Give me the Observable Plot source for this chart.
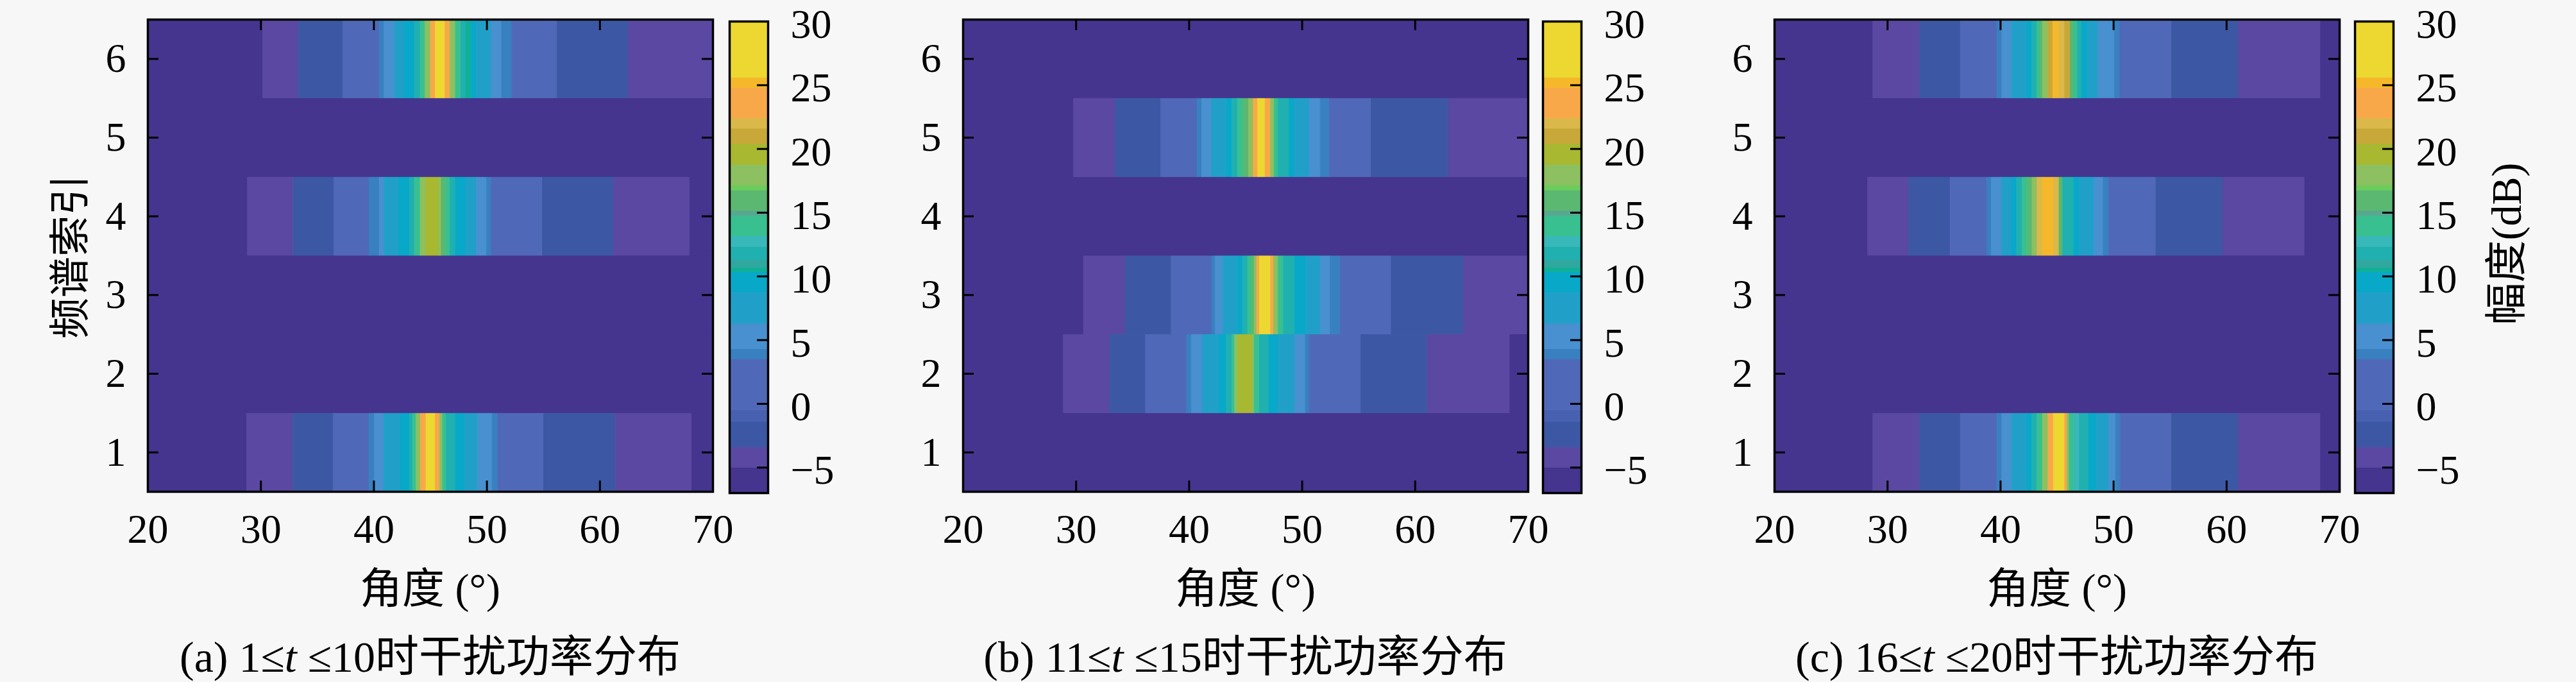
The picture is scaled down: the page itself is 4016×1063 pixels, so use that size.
<!DOCTYPE html>
<html>
<head>
<meta charset="utf-8">
<script src="https://cdn.jsdelivr.net/npm/d3@7"></script>
<script src="https://cdn.jsdelivr.net/npm/@observablehq/plot@0.6"></script>
<style>
  html, body { margin: 0; padding: 0; background: #f7f7f7; }
  #root { position: relative; width: 4016px; height: 1063px; background: #f7f7f7; overflow: hidden; }
  .abs { position: absolute; }
  .abs svg { display: block; background: transparent; overflow: visible; }
  .abs svg, .abs svg text { font-family: "Liberation Serif", serif !important; }
  .txt { position: absolute; white-space: nowrap; color: #000; line-height: 1.15;
         font-family: "Liberation Serif", "Noto Sans CJK SC", serif; }
</style>
</head>
<body>
<div id="root"></div>
<script>
// ---------------- data ----------------
const angleTicks = [20, 30, 40, 50, 60, 70];
const indexTicks = [1, 2, 3, 4, 5, 6];
const dbTicks = [-5, 0, 5, 10, 15, 20, 25, 30];
const dbDomain = [-7, 30];

// colour levels of the colour bar (dB boundaries) and their colours
const levelEdges = [-7, -5.0, -3.4, -1.4, -0.5, 3.5, 4.3, 6.3, 8.75, 10.35, 10.7, 11.3, 12.3,
                    13.15, 14.75, 15.15, 16.75, 17.15, 18.75, 20.4, 21.6, 22.4, 24.8, 25.6, 30];
const levelColors = ["#45358f", "#5a48a2", "#3c58a4", "#4860b0", "#5068b8", "#3880c0", "#4890d0",
                     "#20a0c8", "#08a8c8", "#10b098", "#30a8a0", "#20b0b0", "#38b8b8", "#38c090",
                     "#58a890", "#5ab870", "#6ccc5c", "#8cc060", "#a8b830", "#c8a838", "#dab84a",
                     "#f8a848", "#f5b82a", "#ecd830"];

// rows without interference
const quietEdges = [20, 70];
const quietValues = [-6];

// (a) 1<=t<=10 : rows 1, 4, 6  (angle boundaries, dB value of each segment)
const a6Edges = [20, 30.2, 33.35, 37.3, 40.5, 40.93, 41.84, 42.72, 43.62, 44.12, 44.55, 45.03, 45.46, 46.32, 46.75, 47.24, 47.72, 48.15, 48.62, 49.07, 50.41, 51.32, 52.24, 56.23, 62.54, 70];
const a6Values = [-6, -4.2, -2.4, 1.5, 3.9, 5.3, 7.5, 9.5, 11.8, 14, 18, 23.5, 28, 23.5, 18, 14, 11.8, 10.5, 9.5, 7.5, 5.3, 3.9, 1.5, -2.4, -4.2];
const a4Edges = [20, 28.84, 32.87, 36.5, 39.6, 40.5, 40.93, 42.22, 43.19, 43.62, 44.12, 44.59, 45.78, 45.99, 46.4, 46.75, 47.24, 48.15, 49.08, 49.98, 50.41, 54.94, 61.23, 67.97, 70];
const a4Values = [-6, -4.2, -2.4, 1.5, 3.9, 5.3, 7.5, 9.5, 11.8, 14, 18, 19.5, 18, 16, 14, 11.8, 9.5, 7.5, 5.3, 3.9, 1.5, -2.4, -4.2, -6];
const a1Edges = [20, 28.76, 32.83, 36.44, 39.59, 40.08, 40.9, 42.36, 43.17, 43.45, 43.76, 44.15, 44.63, 45.45, 45.84, 46.1, 46.42, 47.24, 48.05, 49.19, 50.49, 50.98, 55.04, 61.38, 68.15, 70];
const a1Values = [-6, -4.2, -2.4, 1.5, 3.9, 5.3, 7.5, 9.5, 11.8, 14, 18, 23.5, 28, 23.5, 18, 14, 11.8, 9.5, 7.5, 5.3, 3.9, 1.5, -2.4, -4.2, -6];

// (b) 11<=t<=15 : rows 2, 3, 5
const b5Edges = [20, 29.8, 33.49, 37.52, 40.72, 41.14, 42.02, 43.32, 43.81, 44.3, 44.79, 45.28, 45.7, 46.09, 46.74, 47.23, 47.55, 47.88, 48.86, 49.3, 50.65, 51.63, 52.44, 56.12, 62.96, 70];
const b5Values = [-6, -4.2, -2.4, 1.5, 3.9, 5.3, 7.5, 9.5, 11.8, 14, 16, 18, 23.5, 28, 23.5, 18, 14, 11.8, 9.5, 7.5, 5.3, 3.9, 1.5, -2.4, -4.2];
const b3Edges = [20, 30.68, 34.36, 38.44, 42.02, 42.35, 43.0, 44.3, 44.75, 45.2, 45.5, 45.77, 46.0, 46.25, 47.23, 47.5, 47.9, 48.37, 49.35, 50.33, 51.63, 52.5, 53.4, 57.9, 64.3, 70];
const b3Values = [-6, -4.2, -2.4, 1.5, 3.9, 5.3, 7.5, 9.5, 11.8, 14, 16, 18, 23.5, 28, 23.5, 18, 14, 11.8, 9.5, 7.5, 5.3, 3.9, 1.5, -2.4, -4.2];
const b2Edges = [20, 28.9, 33.0, 36.16, 39.8, 40.23, 41.2, 42.67, 43.32, 43.8, 44.05, 44.35, 45.6, 45.77, 46.25, 47.07, 47.88, 49.35, 50.3, 50.65, 55.2, 61.07, 68.4, 70];
const b2Values = [-6, -4.2, -2.4, 1.5, 3.9, 5.3, 7.5, 9.5, 11.8, 14, 18, 19.5, 18, 14, 11.8, 9.5, 7.5, 5.3, 3.9, 1.5, -2.4, -4.2, -6];

// (c) 16<=t<=20 : rows 1, 4, 6
const c6Edges = [20, 28.73, 32.84, 36.47, 39.7, 40.13, 41.01, 42.35, 42.8, 43.24, 43.5, 43.73, 44.22, 44.64, 45.2, 45.69, 46.18, 46.5, 46.83, 47.2, 47.7, 48.63, 50.1, 50.59, 55.16, 61.05, 68.33, 70];
const c6Values = [-6, -4.2, -2.4, 1.5, 3.9, 5.3, 7.5, 9.5, 11.8, 14, 16, 18, 21, 25.2, 22, 21, 16, 14, 11.8, 9.5, 7.5, 5.3, 3.9, 1.5, -2.4, -4.2, -6];
const c4Edges = [20, 28.27, 31.9, 35.56, 38.82, 39.2, 40.13, 41.0, 41.44, 41.93, 42.4, 42.81, 43.24, 43.73, 44.7, 45.2, 45.52, 46.5, 47.0, 48.3, 49.1, 49.6, 53.76, 59.67, 66.93, 70];
const c4Values = [-6, -4.2, -2.4, 1.5, 3.9, 5.3, 7.5, 9.5, 11.8, 14, 16, 18, 22, 25.2, 22, 16, 11.8, 9.5, 7.5, 5.3, 3.9, 1.5, -2.4, -4.2, -6];
const c1Edges = [20, 28.73, 32.84, 36.47, 39.7, 40.13, 41.01, 42.35, 42.8, 43.24, 43.73, 44.22, 44.7, 45.69, 45.9, 46.1, 46.5, 47.0, 47.8, 48.5, 49.6, 50.2, 50.6, 55.16, 61.05, 68.33, 70];
const c1Values = [-6, -4.2, -2.4, 1.5, 3.9, 5.3, 7.5, 9.5, 11.8, 14, 18, 23.5, 28, 23.5, 18, 14, 12.8, 11.8, 9.5, 7.5, 5.3, 3.9, 1.5, -2.4, -4.2, -6];

const panelCaptions = [
  "(a) 1≤<i>t</i> ≤10时干扰功率分布",
  "(b) 11≤<i>t</i> ≤15时干扰功率分布",
  "(c) 16≤<i>t</i> ≤20时干扰功率分布"
];
const xLabel = "角度 (°)";
const yLabel = "频谱索引";
const cbLabel = "幅度(dB)";

const panels = [
  [{row: 1, edges: a1Edges, values: a1Values}, {row: 2, edges: quietEdges, values: quietValues},
   {row: 3, edges: quietEdges, values: quietValues}, {row: 4, edges: a4Edges, values: a4Values},
   {row: 5, edges: quietEdges, values: quietValues}, {row: 6, edges: a6Edges, values: a6Values}],
  [{row: 1, edges: quietEdges, values: quietValues}, {row: 2, edges: b2Edges, values: b2Values},
   {row: 3, edges: b3Edges, values: b3Values}, {row: 4, edges: quietEdges, values: quietValues},
   {row: 5, edges: b5Edges, values: b5Values}, {row: 6, edges: quietEdges, values: quietValues}],
  [{row: 1, edges: c1Edges, values: c1Values}, {row: 2, edges: quietEdges, values: quietValues},
   {row: 3, edges: quietEdges, values: quietValues}, {row: 4, edges: c4Edges, values: c4Values},
   {row: 5, edges: quietEdges, values: quietValues}, {row: 6, edges: c6Edges, values: c6Values}]
];

// ---------------- layout ----------------
const H = 1063;
const frameLefts = [230, 1501, 2766];
const cbLefts = [1137, 2405, 3671];
const root = document.getElementById("root");

const colorScale = {type: "threshold", domain: levelEdges.slice(1, -1), range: levelColors};
const fontStyle = {fontFamily: "Liberation Serif, serif", fontSize: "64px", color: "#000",
                   background: "transparent", overflow: "visible"};
const fmt = d => d < 0 ? "\u2212" + Math.abs(d) : String(d);

function place(node, left, top) {
  const d = document.createElement("div");
  d.className = "abs";
  d.style.left = left + "px";
  d.style.top = top + "px";
  d.appendChild(node);
  root.appendChild(d);
}

function addText(html, cx, cy, size, rot) {
  const d = document.createElement("div");
  d.className = "txt";
  d.style.left = cx + "px";
  d.style.top = cy + "px";
  d.style.fontSize = size + "px";
  d.style.transform = "translate(-50%,-50%)" + (rot ? ` rotate(${rot}deg)` : "");
  d.innerHTML = html;
  root.appendChild(d);
}

function heatmap(rows, frameLeft) {
  const segs = rows.flatMap(r => r.values.map((v, i) => ({row: r.row, a0: r.edges[i], a1: r.edges[i + 1], v})));
  const ML = 230, MR = 60, MT = 30, MB = 297, PW = 881, PH = H - MT - MB;
  const svg = Plot.plot({
    width: ML + PW + MR, height: H,
    marginLeft: ML, marginRight: MR, marginTop: MT, marginBottom: MB,
    x: {domain: [20, 70]},
    y: {domain: [0.5, 6.5]},
    color: colorScale,
    style: fontStyle,
    marks: [
      Plot.rect(segs, {x1: "a0", x2: "a1", y1: d => d.row - 0.5, y2: d => d.row + 0.5,
                       fill: "v", stroke: "v", strokeWidth: 0.8}),
      Plot.tickX(angleTicks, {x: d => d, insetTop: PH - 17, stroke: "#000", strokeWidth: 3}),
      Plot.tickX(angleTicks, {x: d => d, insetBottom: PH - 17, stroke: "#000", strokeWidth: 3}),
      Plot.tickY(indexTicks, {y: d => d, insetRight: PW - 17, stroke: "#000", strokeWidth: 3}),
      Plot.tickY(indexTicks, {y: d => d, insetLeft: PW - 17, stroke: "#000", strokeWidth: 3}),
      Plot.frame({stroke: "#000", strokeWidth: 3.5}),
      Plot.axisX({ticks: angleTicks, tickSize: 0, tickPadding: 34, fontSize: 64, label: null, tickFormat: fmt}),
      Plot.axisY({ticks: indexTicks, tickSize: 0, tickPadding: 34, fontSize: 64, label: null, tickFormat: fmt})
    ]
  });
  place(svg, frameLeft - ML, 0);
}

function colorbar(cbLeft) {
  const levels = levelColors.map((c, i) => ({lo: levelEdges[i], hi: levelEdges[i + 1]}));
  const ML = 10, MR = 150, MT = 33, MB = 295, PW = 60;
  const svg = Plot.plot({
    width: ML + PW + MR, height: H,
    marginLeft: ML, marginRight: MR, marginTop: MT, marginBottom: MB,
    x: {domain: [0, 1], axis: null},
    y: {domain: dbDomain},
    color: colorScale,
    style: fontStyle,
    marks: [
      Plot.rect(levels, {x1: d => 0, x2: d => 1, y1: "lo", y2: "hi",
                         fill: d => (d.lo + d.hi) / 2, stroke: d => (d.lo + d.hi) / 2, strokeWidth: 0.8}),
      Plot.tickY(dbTicks, {y: d => d, insetLeft: PW - 17, stroke: "#000", strokeWidth: 3}),
      Plot.frame({stroke: "#000", strokeWidth: 3.5}),
      Plot.axisY({ticks: dbTicks, anchor: "right", tickSize: 0, tickPadding: 35, fontSize: 64, dy: 5,
                  label: null, tickFormat: fmt})
    ]
  });
  place(svg, cbLeft - ML, 0);
}

panels.forEach((rows, i) => {
  heatmap(rows, frameLefts[i]);
  colorbar(cbLefts[i]);
  const cx = frameLefts[i] + 881 / 2;
  addText(xLabel, cx, 918, 66);
  addText(panelCaptions[i], cx, 1024, 68);
});
addText(yLabel, 110, 400, 64, -90);
addText(cbLabel, 3908, 380, 66, -90);
</script>
</body>
</html>
